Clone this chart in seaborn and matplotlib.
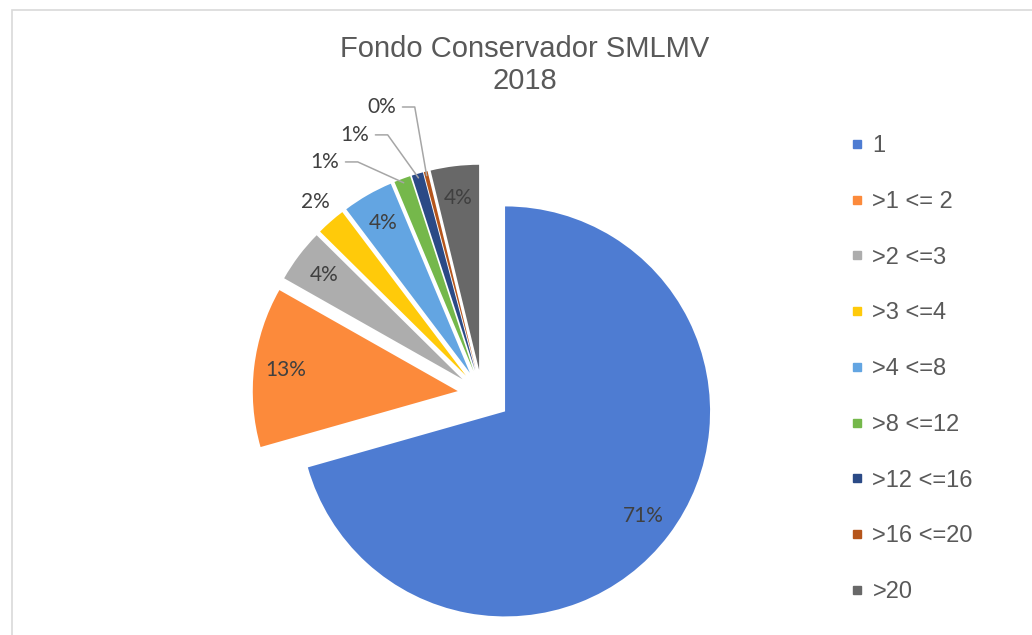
import numpy as np
import seaborn as sns
import matplotlib.pyplot as plt
from matplotlib.lines import Line2D
from matplotlib.patches import Rectangle

# Data (share of affiliates per SMLMV range)
categories = ['1', '>1 <= 2', '>2 <=3', '>3 <=4', '>4 <=8', '>8 <=12', '>12 <=16', '>16 <=20', '>20']
shares = [70.6, 12.6, 4.2, 2.3, 4.0, 1.3, 0.9, 0.3, 3.8]
pct_labels = ['71%', '13%', '4%', '2%', '4%', '1%', '1%', '0%', '4%']
colors = ['#4E7CD2', '#FC8A3B', '#ADADAD', '#FFCA0A', '#63A5E2', '#75B84B', '#2B4A86', '#B5551B', '#686868']

# labels that Excel put outside the pie (position in data units, leader line or not)
outside = {
    '>3 <=4': ((-0.815, 0.937), False),
    '>8 <=12': ((-0.766, 1.132), True),
    '>12 <=16': ((-0.620, 1.264), True),
    '>16 <=20': ((-0.488, 1.400), True),
}

sns.set_theme(style='white')
plt.rcParams['font.family'] = ['Liberation Sans', 'DejaVu Sans']
palette = sns.color_palette(colors)

W, H = 1032, 635
fig = plt.figure(figsize=(W / 100, H / 100), dpi=100)

# axes placed so the pie center sits at (482, 394) px with 1 unit = 205 px
unit = 205
lim = 1.3
cx, cy = 482, 394
ax = fig.add_axes([(cx - lim * unit) / W, (H - cy - lim * unit) / H, 2 * lim * unit / W, 2 * lim * unit / H])

explode = [0.141] + [0.119] * (len(shares) - 1)
wedges, _ = ax.pie(shares, colors=palette, startangle=90, counterclock=False,
                   explode=explode, radius=1, wedgeprops=dict(linewidth=0))
ax.set_xlim(-lim, lim)
ax.set_ylim(-lim, lim)
ax.axis('off')

label_font = dict(fontsize=15, color='#404040', family=['Lato', 'DejaVu Sans'])
for w, cat, lab in zip(wedges, categories, pct_labels):
    mid = np.deg2rad((w.theta1 + w.theta2) / 2)
    x0, y0 = w.center
    if cat in outside:
        (tx, ty), leader = outside[cat]
        ax.text(tx, ty, lab, ha='center', va='center', **label_font)
        if leader:
            ex, ey = x0 + np.cos(mid) * 0.98, y0 + np.sin(mid) * 0.98
            sx = tx + 0.1
            ax.plot([sx, sx + 0.06, ex], [ty, ty, ey], color='#A6A6A6', lw=1.1, clip_on=False)
    else:
        r = 0.845
        ax.text(x0 + r * np.cos(mid), y0 + r * np.sin(mid), lab, ha='center', va='center', **label_font)

fig.suptitle('Fondo Conservador SMLMV\n2018', x=525 / W, y=1 - 35 / H, va='top',
             fontsize=21, color='#595959', linespacing=1.17)

handles = [Line2D([], [], marker='s', linestyle='', markersize=6, color=c) for c in palette]
fig.legend(handles, categories, loc='upper left', bbox_to_anchor=(850 / W, 1 - 135 / H),
           frameon=False, fontsize=17, labelcolor='#595959', labelspacing=1.43,
           handlelength=0.6, handletextpad=0.35, borderpad=0, borderaxespad=0)

# chart area border (cut at right and bottom as in the screenshot)
fig.patches.append(Rectangle((12 / W, -0.1), 1.0, 1 - 10 / H + 0.1, transform=fig.transFigure,
                             fill=False, edgecolor='#D9D9D9', lw=1.2, clip_on=False))

fig.savefig('out.png', dpi=100, facecolor='white')
